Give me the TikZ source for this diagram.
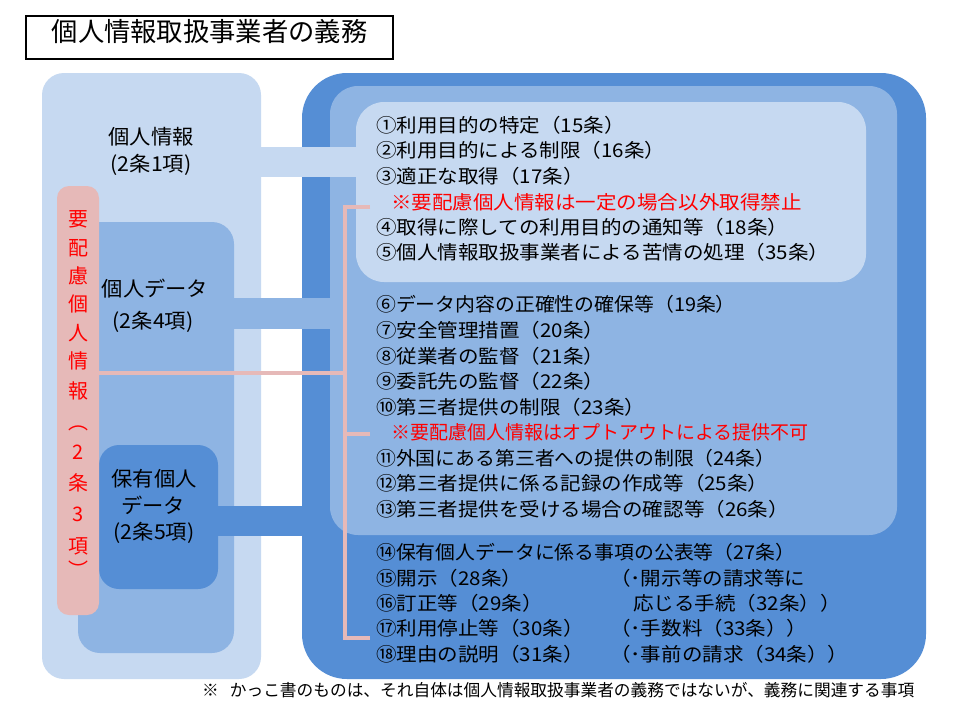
\documentclass[tikz,border=0pt]{standalone}
\usepackage{fontspec}
\setmainfont{Noto Sans CJK JP}
\newfontfamily\listfont[FakeStretch=1.08]{Noto Sans CJK JP}
\newfontfamily\listfontb[FakeStretch=1.045]{Noto Sans CJK JP}
\newfontfamily\lblfont[FakeStretch=1.04]{Noto Sans CJK JP}
\definecolor{dkb}{HTML}{558ED5}
\definecolor{mdb}{HTML}{8EB4E3}
\definecolor{ltb}{HTML}{C6D9F1}
\definecolor{pnk}{HTML}{E6B9B8}
\begin{document}
\begin{tikzpicture}[x=1pt,y=-1pt,
  box/.style={inner sep=0pt, draw=none, rectangle},
  item/.style={anchor=west, inner sep=0pt, text height=0.83em, text depth=0.07em, font=\listfont\fontsize{19}{23}\selectfont},
  itemb/.style={item, font=\listfontb\fontsize{19}{23}\selectfont},
  note/.style={item, text=red},
  noteb/.style={item, text=red, font=\fontsize{19}{23}\selectfont},
  lbl/.style={inner sep=0pt, text height=0.83em, text depth=0.07em, font=\lblfont\fontsize{20.5}{25}\selectfont},
  vch/.style={inner sep=0pt, text=red, text height=0.83em, text depth=0.07em, font=\fontsize{20}{20}\selectfont},
  pline/.style={draw=pnk, line width=4pt}]
\useasboundingbox (0,0) rectangle (960,720);
\fill[white] (0,0) rectangle (960,720);
% title
\node[draw=black, line width=1.2pt, minimum width=367pt, minimum height=43pt, inner sep=0pt] (title) at (209.5,37.5) {};
\node[inner sep=0pt, font=\fontsize{26.3}{30}\selectfont, text height=0.83em, text depth=0.07em] (titletext) at (title.center) {個人情報取扱事業者の義務};
% left boxes
\node[box, fill=ltb, rounded corners=22pt, minimum width=219pt, minimum height=606pt] (louter) at (151.5,376) {};
\node[box, fill=mdb, rounded corners=22pt, minimum width=156pt, minimum height=431pt] (lmid) at (156,437.5) {};
\node[box, fill=dkb, rounded corners=20pt, minimum width=119pt, minimum height=144pt] (hoyu) at (158.5,517) {};
% right boxes
\node[box, fill=dkb, rounded corners=45pt, minimum width=624pt, minimum height=606pt] (rdark) at (614,376) {};
\node[box, fill=mdb, rounded corners=28pt, minimum width=567pt, minimum height=449pt] (rmid) at (613.5,310.5) {};
\node[box, fill=ltb, rounded corners=28pt, minimum width=510pt, minimum height=180pt] (rlight) at (611,192) {};
% bands (connectors)
\coordinate (b1a) at (261,147); \coordinate (b1b) at (356,177);
\coordinate (b2a) at (234,298); \coordinate (b2b) at (330,329);
\coordinate (b3a) at (218,506); \coordinate (b3b) at (302,536);
\fill[ltb] (b1a) rectangle (b1b);
\fill[mdb] (b2a) rectangle (b2b);
\fill[dkb] (b3a) rectangle (b3b);
% pink box
\node[box, fill=pnk, rounded corners=12pt, minimum width=42pt, minimum height=429pt] (pinkbox) at (78,400.5) {};
% pink connector lines
\coordinate (pv) at (345,373);
\coordinate (t1) at (370,207); \coordinate (t1c) at (345,207);
\coordinate (t2) at (370,434); \coordinate (t2c) at (345,434);
\coordinate (t3) at (370,638); \coordinate (t3c) at (345,638);
\draw[pline] (pinkbox.east |- pv) -- (pv);
\draw[pline] (t1) -- (t1c) -- (t3c) -- (t3);
\draw[pline] (t2c) -- (t2);
% left labels
\node[lbl] (k1a) at (151,141) {個人情報};
\node[lbl] (k1b) at (151,168) {(2条1項)};
\node[lbl] (k2a) at (155,293) {個人データ};
\node[lbl] (k2b) at (153,325) {(2条4項)};
\node[lbl] (k3a) at (154,483) {保有個人};
\node[lbl] (k3b) at (153,510) {データ};
\node[lbl] (k3c) at (154,536) {(2条5項)};
% vertical pink text
\node[vch] (v1) at (78,223) {要};
\node[vch] (v2) at (78,252) {配};
\node[vch] (v3) at (78,280) {慮};
\node[vch] (v4) at (78,308) {個};
\node[vch] (v5) at (78,337) {人};
\node[vch] (v6) at (78,365) {情};
\node[vch] (v7) at (78,395) {報};
\node[vch] (v8) at (78,426) {︵};
\node[vch] (v9) at (78,456) {2};
\node[vch] (v10) at (78,487) {条};
\node[vch] (v11) at (78,518) {3};
\node[vch] (v12) at (78,550) {項};
\node[vch] (v13) at (78,574) {︶};
% list
\node[item] (l1) at (376,129) {①利用目的の特定（15条）};
\node[item] (l2) at (376,154) {②利用目的による制限（16条）};
\node[item] (l3) at (376,180) {③適正な取得（17条）};
\node[note] (n1) at (391,206) {※要配慮個人情報は一定の場合以外取得禁止};
\node[item] (l4) at (376,231) {④取得に際しての利用目的の通知等（18条）};
\node[item] (l5) at (376,256) {⑤個人情報取扱事業者による苦情の処理（35条）};
\node[itemb] (l6) at (376,308) {⑥データ内容の正確性の確保等（19条）};
\node[item] (l7) at (376,334) {⑦安全管理措置（20条）};
\node[item] (l8) at (376,360) {⑧従業者の監督（21条）};
\node[item] (l9) at (376,385) {⑨委託先の監督（22条）};
\node[item] (l10) at (376,411) {⑩第三者提供の制限（23条）};
\node[noteb] (n2) at (391,436) {※要配慮個人情報はオプトアウトによる提供不可};
\node[itemb] (l11) at (376,462) {⑪外国にある第三者への提供の制限（24条）};
\node[item] (l12) at (376,487) {⑫第三者提供に係る記録の作成等（25条）};
\node[item] (l13) at (376,513) {⑬第三者提供を受ける場合の確認等（26条）};
\node[itemb] (l14) at (376,556) {⑭保有個人データに係る事項の公表等（27条）};
\node[item] (l15) at (376,582) {⑮開示（28条）};
\node[item] (l16) at (376,607) {⑯訂正等（29条）};
\node[item] (l17) at (376,632) {⑰利用停止等（30条）};
\node[item] (l18) at (376,658) {⑱理由の説明（31条）};
\node[item] (r15) at (610,582) {（･開示等の請求等に};
\node[item] (r16) at (633,607) {応じる手続（32条））};
\node[item] (r17) at (610,632) {（･手数料（33条））};
\node[item] (r18) at (610,658) {（･事前の請求（34条））};
% footnote
\node[anchor=west, inner sep=0pt, text height=0.83em, text depth=0.07em, font=\fontsize{16.7}{20}\selectfont] (foot) at (202,693) {※\hspace{11pt}かっこ書のものは、それ自体は個人情報取扱事業者の義務ではないが、義務に関連する事項};
\end{tikzpicture}
\end{document}
